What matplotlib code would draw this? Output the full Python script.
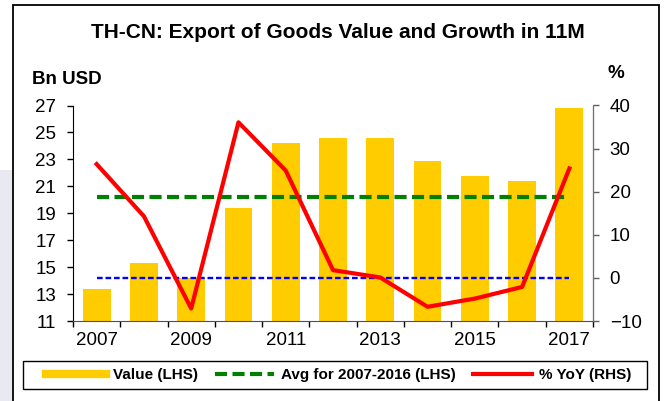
import matplotlib
matplotlib.use('Agg')
import matplotlib.pyplot as plt
from matplotlib.lines import Line2D
from matplotlib.patches import Rectangle, Polygon
import numpy as np

plt.rcParams['font.family'] = ['Liberation Sans', 'DejaVu Sans']

# data
years = [2007, 2008, 2009, 2010, 2011, 2012, 2013, 2014, 2015, 2016, 2017]
value_bn = [13.4, 15.3, 14.2, 19.4, 24.2, 24.6, 24.6, 22.9, 21.8, 21.4, 26.8]
yoy_pct = [26.4, 14.3, -7.1, 36.1, 24.9, 1.8, 0.1, -6.7, -4.8, -2.1, 25.4]
avg_2007_2016 = [20.2] * len(years)
zero_line = [0] * len(years)
year_labels = [str(y) if i % 2 == 0 else '' for i, y in enumerate(years)]

W, H = 665, 401
fig = plt.figure(figsize=(W / 100, H / 100), dpi=100)

# background strip at the left edge and the outer frame
fig.patches.append(Polygon([[0, 0], [12 / W, 0], [12 / W, 1 - 170 / H], [0, 1 - 170 / H]],
                           closed=True, transform=fig.transFigure,
                           facecolor='#E9E9F2', edgecolor='none', zorder=0))
fig.patches.append(Rectangle((12.5 / W, -0.05), (658.5 - 12.5) / W, 1.05 - 5 / H,
                             transform=fig.transFigure, facecolor='none',
                             edgecolor='black', lw=1.3, zorder=1))

ax = fig.add_axes([73 / W, 1 - 321 / H, (593 - 73) / W, (321 - 105.5) / H])
ax2 = ax.twinx()

x = np.arange(len(years))
ax.bar(x, value_bn, width=0.59, color='#FFCC00', zorder=2)
ax.plot(x, avg_2007_2016, color='#008000', lw=3, dashes=(2.9, 1.3), zorder=3)

ax2.plot(x, zero_line, color='#0000FF', lw=1.7, dashes=(2.4, 1.2), zorder=3)
ax2.plot(x, yoy_pct, color='#FF0000', lw=3, zorder=4)

ax.set_xlim(-0.5, len(years) - 0.5)
ax.set_ylim(11, 27)
ax.set_yticks(np.arange(11, 28, 2))
ax2.set_ylim(-10, 40)
ax2.set_yticks(np.arange(-10, 41, 10))

# ticks between categories, labels on the category centres
ax.set_xticks(np.arange(-0.5, len(years), 1))
ax.set_xticklabels([])
ax.set_xticks(x, minor=True)
ax.set_xticklabels(year_labels, minor=True)
ax.tick_params(axis='x', which='major', direction='out', length=4, width=1, color='black')
ax.tick_params(axis='x', which='minor', length=0, pad=8, labelsize=13.5)
ax.tick_params(axis='y', direction='out', length=4, width=1, pad=8, labelsize=13.5)
ax2.tick_params(axis='y', direction='out', length=4, width=1, pad=8, labelsize=13.5,
                color='#606060')

for a in (ax, ax2):
    a.spines['top'].set_visible(False)
ax.spines['left'].set_color('black')
ax.spines['bottom'].set_color('#505050')
ax2.spines['right'].set_color('#707070')
ax2.spines['left'].set_visible(False)
ax2.spines['bottom'].set_visible(False)

fig.text(338 / W, 1 - 33 / H, 'TH-CN: Export of Goods Value and Growth in 11M',
         ha='center', va='center', fontsize=15, fontweight='bold')
fig.text(32 / W, 1 - 80 / H, 'Bn USD', ha='left', va='center', fontsize=13.5, fontweight='bold')
fig.text(616 / W, 1 - 73 / H, '%', ha='center', va='center', fontsize=13.5, fontweight='bold')

# legend: box drawn separately, entries without frame
fig.patches.append(Rectangle((23 / W, 1 - 389 / H), (647 - 23) / W, 28 / H,
                             transform=fig.transFigure, facecolor='white',
                             edgecolor='black', lw=1, zorder=1))
handles = [Line2D([], [], color='#FFCC00', lw=6),
           Line2D([], [], color='#008000', lw=3, dashes=(2.9, 1.3)),
           Line2D([], [], color='#FF0000', lw=3)]
labels = ['Value (LHS)', 'Avg for 2007-2016 (LHS)', '% YoY (RHS)']
leg = fig.legend(handles, labels, loc='center', ncol=3,
                 bbox_to_anchor=(339 / W, 1 - 375 / H),
                 prop={'weight': 'bold', 'size': 11}, handlelength=3.9,
                 columnspacing=1.1, handletextpad=0.45, frameon=False)

fig.savefig('out.png', dpi=100)
